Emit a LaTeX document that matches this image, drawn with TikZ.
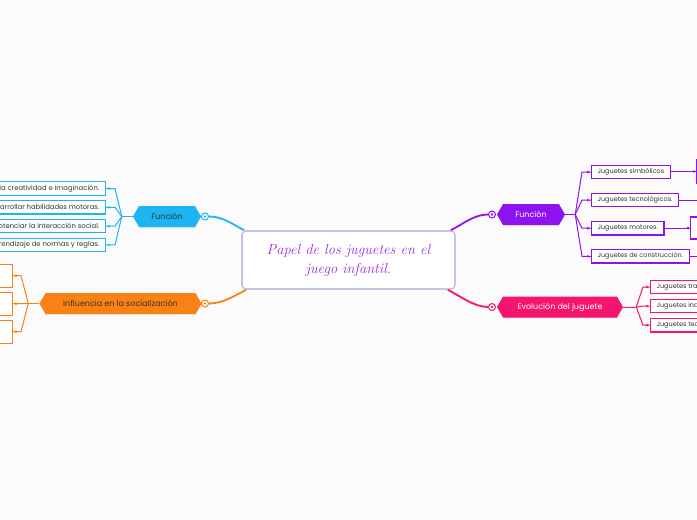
\documentclass[tikz,border=0pt]{standalone}
\usepackage{fontspec}
\setsansfont{Poppins}
\usetikzlibrary{shapes.symbols,shadows}

\definecolor{cian}{HTML}{1CB4F2}
\definecolor{naranja}{HTML}{FA8214}
\definecolor{morado}{HTML}{8E12F0}
\definecolor{rosa}{HTML}{F5146E}
\definecolor{lavanda}{HTML}{C8C2E4}
\definecolor{texto}{HTML}{333333}
\definecolor{titulo}{HTML}{9A2DE6}
\definecolor{fondo}{HTML}{FBFBFB}

\begin{document}
\begin{tikzpicture}[
        x=1pt, y=-1pt,
        font=\sffamily\fontsize{6.5}{8}\selectfont,
        hexa/.style={signal, signal to=west and east, signal pointer angle=120, fill=#1, minimum height=21pt, inner xsep=3pt, font=\sffamily\fontsize{8}{10}\selectfont, drop shadow={opacity=0.15, shadow xshift=0.5pt, shadow yshift=-1pt}},
        hijo/.style={draw=#1, fill=white, line width=1.2pt, minimum height=13.5pt, inner xsep=6pt, inner ysep=1pt, text=texto},
        rama/.style={draw=#1, line width=1.8pt},
        abanico/.style={draw=#1, line width=1pt},
        ojo/.style={circle, draw=#1, fill=white, line width=1pt, minimum size=7pt, inner sep=0pt, path picture={\fill[#1] (path picture bounding box.center) circle (1.3pt);}},
    ]

    % Fondo y recorte al tamaño de la imagen
    \useasboundingbox (0,0) rectangle (697,520);
    \fill[fondo] (0,0) rectangle (697,520);
    \clip (0,0) rectangle (697,520);

    % Idea central
    \node[draw=lavanda, line width=1.6pt, rounded corners=4pt, fill=white, minimum width=213pt, minimum height=58pt, align=center, text=titulo, font=\rmfamily\itshape\fontsize{14.5}{19}\selectfont] (centro) at (348.5,260) {Papel de los juguetes en el\\juego infantil.};

    % Ramas principales
    \node[hexa=cian, text=texto, minimum width=68pt] (hex-lf) at (167,216.5) {Función};
    \node[hexa=naranja, text=texto, minimum width=162pt] (hex-ls) at (120.5,303.5) {Influencia en la socialización};
    \node[hexa=morado, text=white, minimum width=68pt] (hex-rf) at (531,214.5) {Función};
    \node[hexa=rosa, text=white, minimum width=126pt] (hex-re) at (560,307) {Evolución del juguete};

    \node[ojo=cian] (ojo-lf) at (205,216.5) {};
    \node[ojo=naranja] (ojo-ls) at (205,303.5) {};
    \node[ojo=morado] (ojo-rf) at (492,214.5) {};
    \node[ojo=rosa] (ojo-re) at (492,307) {};

    % Conectores desde la idea central
    \draw[rama=cian] (ojo-lf.east) .. controls +(14,0) and +(-12,-6) .. ([xshift=3pt]centro.north west);
    \draw[rama=naranja] (ojo-ls.east) .. controls +(14,0) and +(-12,6) .. ([xshift=5pt]centro.south west);
    \draw[rama=morado] (ojo-rf.west) .. controls +(-14,0) and +(12,-6) .. ([xshift=-5pt]centro.north east);
    \draw[rama=rosa] (ojo-re.west) .. controls +(-14,0) and +(12,6) .. ([xshift=-8pt]centro.south east);

    % Función (izquierda)
    \draw[abanico=cian] (hex-lf.west) -- ++(-11,0) coordinate (j-lf);
    \foreach \txt [count=\i from 0] in {Fomentar la creatividad e imaginación., Desarrollar habilidades motoras., Potenciar la interacción social., Aprendizaje de normas y reglas.} {
        \node[hijo=cian, anchor=east, font=\sffamily\fontsize{6.85}{8}\selectfont] (lf-\i) at (106,188.5+18.8*\i) {\txt};
        \draw[abanico=cian] (j-lf) -- ([xshift=9pt]lf-\i.east) -- (lf-\i.east);
        \fill[cian] ([xshift=3pt]lf-\i.east) circle (1.3pt);
    }

    % Influencia en la socialización
    \draw[abanico=naranja] (hex-ls.west) -- ++(-11,0) coordinate (j-ls);
    \foreach \i in {0,1,2} {
        \node[hijo=naranja, anchor=east, minimum width=110pt, minimum height=23pt] (ls-\i) at (13,275.7+28*\i) {};
        \draw[abanico=naranja] (j-ls) -- ([xshift=8pt]ls-\i.east) -- (ls-\i.east);
        \fill[naranja] ([xshift=3pt]ls-\i.east) circle (1.3pt);
    }

    % Función (derecha)
    \draw[abanico=morado] (hex-rf.east) -- ++(10,0) coordinate (j-rf);
    \foreach \txt [count=\i from 0] in {Juguetes simbólicos, Juguetes tecnológicos., Juguetes motores., Juguetes de construcción.} {
        \node[hijo=morado, anchor=west] (rf-\i) at (591,172+28.1*\i) {\txt};
        \draw[abanico=morado] (j-rf) -- ([xshift=-9pt]rf-\i.west) -- (rf-\i.west);
        \fill[morado] ([xshift=-3pt]rf-\i.west) circle (1.3pt);
    }

    % Ejemplos de cada tipo (fuera del borde)
    \foreach \x/\y/\h [count=\i from 0] in {696/171.5/23, 705/200/14, 690/228/22, 705/256.3/14} {
        \node[hijo=morado, anchor=west, minimum width=60pt, minimum height=\h pt] (nieto-\i) at (\x,\y) {};
        \draw[abanico=morado] (rf-\i.east |- 0,\y) -- (nieto-\i.west);
        \fill[morado] ([xshift=-2pt]nieto-\i.west) circle (1.3pt);
    }

    % Evolución del juguete
    \draw[abanico=rosa] (hex-re.east) -- ++(13,0) coordinate (j-re);
    \foreach \txt [count=\i from 0] in {Juguetes tradicionales., Juguetes industriales., Juguetes tecnológicos.} {
        \node[hijo=rosa, anchor=west] (re-\i) at (650,287+19.1*\i) {\txt};
        \draw[abanico=rosa] (j-re) -- ([xshift=-7pt]re-\i.west) -- (re-\i.west);
        \fill[rosa] ([xshift=-3pt]re-\i.west) circle (1.3pt);
    }

\end{tikzpicture}
\end{document}
